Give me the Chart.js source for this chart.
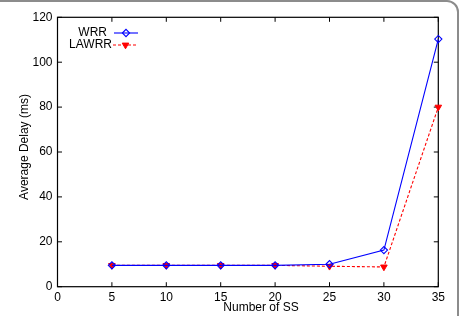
<!DOCTYPE html>
<html>
<head>
<meta charset="utf-8">
<script src="https://cdn.jsdelivr.net/npm/chart.js@4"></script>
<style>
  html, body { margin: 0; padding: 0; background: #ffffff; }
  #wrap { position: relative; width: 472px; height: 316px; overflow: hidden; }
  #frame { position: absolute; left: -12px; top: 0px; width: 467px; height: 340px;
           border: 2px solid #8c8c8c; border-radius: 12px; pointer-events: none; }
  canvas { position: absolute; left: 0; top: 0; }
</style>
</head>
<body>
<div id="wrap">
  <canvas id="c" width="472" height="316"></canvas>
  <div id="frame"></div>
</div>
<script>
const numberOfSS = [5, 10, 15, 20, 25, 30, 35];
const wrrDelay   = [9.5, 9.5, 9.5, 9.5, 10.0, 16.3, 110.3];
const lawrrDelay = [9.5, 9.5, 9.5, 9.5, 9.1, 8.8, 80.0];
const xTicks = [0, 5, 10, 15, 20, 25, 30, 35];
const yTicks = [0, 20, 40, 60, 80, 100, 120];
const xTitle = 'Number of SS';
const yTitle = 'Average Delay (ms)';
const seriesNames = ['WRR', 'LAWRR'];

const FONT = '"Liberation Sans", Arial, Helvetica, sans-serif';
const BLUE = '#0000ff';
const RED = '#ff0000';

const toPoints = (xs, ys) => xs.map((x, i) => ({ x: x, y: ys[i] }));

const framePlugin = {
  id: 'gnuFrame',
  beforeDatasetsDraw(chart) {
    const { ctx, chartArea: a, scales } = chart;
    ctx.save();
    ctx.strokeStyle = '#000';
    ctx.lineWidth = 1.2;
    ctx.strokeRect(a.left, a.top, a.right - a.left, a.bottom - a.top);
    const tl = 4.5;
    ctx.beginPath();
    xTicks.forEach(v => {
      const px = scales.x.getPixelForValue(v);
      ctx.moveTo(px, a.bottom); ctx.lineTo(px, a.bottom - tl);
      ctx.moveTo(px, a.top); ctx.lineTo(px, a.top + tl);
    });
    yTicks.forEach(v => {
      const py = scales.y.getPixelForValue(v);
      ctx.moveTo(a.left, py); ctx.lineTo(a.left + tl, py);
      ctx.moveTo(a.right, py); ctx.lineTo(a.right - tl, py);
    });
    ctx.lineWidth = 1;
    ctx.stroke();
    ctx.restore();
  },
  afterDraw(chart) {
    const { ctx } = chart;
    ctx.save();
    ctx.fillStyle = '#000';
    ctx.font = '12px ' + FONT;
    // axis titles
    ctx.textAlign = 'center';
    ctx.textBaseline = 'middle';
    ctx.fillText(xTitle, 261, 307.5);
    ctx.save();
    ctx.translate(24.5, 147);
    ctx.rotate(-Math.PI / 2);
    ctx.fillText(yTitle, 0, 0);
    ctx.restore();
    // legend
    const ds = chart.data.datasets;
    const rows = [
      { y: 33, textRight: 107, x0: 114, x1: 138 },
      { y: 45, textRight: 112, x0: 113, x1: 138 }
    ];
    rows.forEach((r, i) => {
      const d = ds[i];
      ctx.textAlign = 'right';
      ctx.fillStyle = '#000';
      ctx.fillText(seriesNames[i], r.textRight, r.y);
      ctx.beginPath();
      ctx.strokeStyle = d.borderColor;
      ctx.lineWidth = d.borderWidth;
      ctx.setLineDash(d.borderDash || []);
      ctx.moveTo(r.x0, r.y); ctx.lineTo(r.x1, r.y);
      ctx.stroke();
      ctx.setLineDash([]);
      ctx.fillStyle = d.pointBackgroundColor;
      ctx.strokeStyle = d.pointBorderColor;
      ctx.lineWidth = d.pointBorderWidth;
      Chart.helpers.drawPoint(ctx, {
        pointStyle: d.pointStyle,
        rotation: d.pointRotation || 0,
        radius: d.pointRadius,
        borderWidth: d.pointBorderWidth
      }, (r.x0 + r.x1) / 2, r.y);
    });
    ctx.restore();
  }
};

new Chart(document.getElementById('c'), {
  type: 'line',
  data: {
    datasets: [
      {
        label: seriesNames[0],
        data: toPoints(numberOfSS, wrrDelay),
        borderColor: BLUE,
        borderWidth: 1.1,
        pointStyle: 'rectRot',
        pointRadius: 3.6,
        pointBorderWidth: 1.1,
        pointBorderColor: BLUE,
        pointBackgroundColor: 'rgba(0,0,0,0)',
        tension: 0,
        clip: false
      },
      {
        label: seriesNames[1],
        data: toPoints(numberOfSS, lawrrDelay),
        borderColor: RED,
        borderWidth: 1.1,
        borderDash: [3, 2],
        pointStyle: 'triangle',
        pointRotation: 180,
        pointRadius: 3.8,
        pointBorderWidth: 1,
        pointBorderColor: RED,
        pointBackgroundColor: RED,
        tension: 0,
        clip: false
      }
    ]
  },
  options: {
    responsive: false,
    animation: false,
    devicePixelRatio: 1,
    layout: { padding: { left: 0, right: 33.7, top: 17.3, bottom: 0 } },
    plugins: { legend: { display: false }, tooltip: { enabled: false } },
    scales: {
      x: {
        type: 'linear',
        min: 0, max: 35,
        afterBuildTicks: s => { s.ticks = xTicks.map(v => ({ value: v })); },
        afterFit: s => { s.height = 29.3; },
        grid: { display: false, drawTicks: false },
        border: { display: false },
        ticks: { color: '#000', font: { family: FONT, size: 12 }, padding: 4, maxRotation: 0 }
      },
      y: {
        type: 'linear',
        min: 0, max: 120,
        afterBuildTicks: s => { s.ticks = yTicks.map(v => ({ value: v })); },
        afterFit: s => { s.width = 57.5; },
        grid: { display: false, drawTicks: false },
        border: { display: false },
        ticks: { color: '#000', font: { family: FONT, size: 12 }, padding: 5 }
      }
    }
  },
  plugins: [framePlugin]
});
</script>
</body>
</html>
